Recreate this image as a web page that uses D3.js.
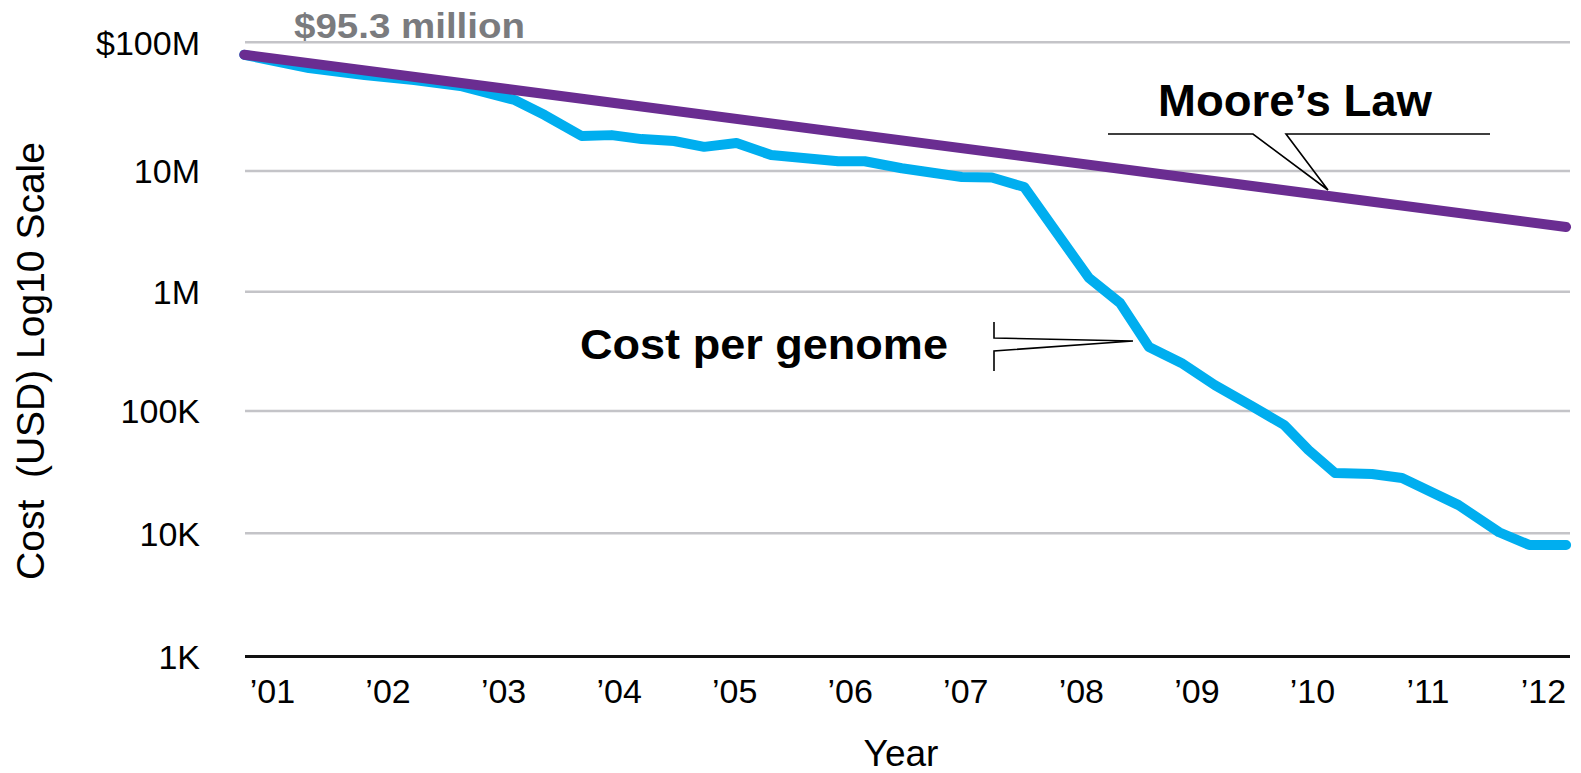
<!DOCTYPE html>
<html><head><meta charset="utf-8">
<script src="https://cdn.jsdelivr.net/npm/d3@7"></script>
<style>
body{margin:0;background:#fff}
svg{display:block}
text{font-family:"Liberation Sans",Arial,Helvetica,sans-serif}
</style>
</head><body>
<svg id="chart" width="1581" height="773"></svg>
<script>
// ---- data ----
const yearTicks = [2001,2002,2003,2004,2005,2006,2007,2008,2009,2010,2011,2012];
const yearLabels = ["’01","’02","’03","’04","’05","’06","’07","’08","’09","’10","’11","’12"];
const costTicks = [1e3,1e4,1e5,1e6,1e7,1e8];
const costTickLabels = ["1K","10K","100K","1M","10M","$100M"];

const costYears = [2000.76,2001.32,2001.80,2002.23,2002.63,2003.10,2003.36,2003.68,2003.94,2004.20,
  2004.48,2004.74,2005.02,2005.32,2005.90,2006.13,2006.45,2006.97,2007.23,2007.51,
  2008.07,2008.34,2008.59,2008.87,2009.16,2009.48,2009.76,2009.97,2010.20,2010.52,
  2010.78,2011.27,2011.62,2011.88,2012.20];
const costValues = [80.0e6,63.0e6,55.7e6,50.9e6,45.8e6,35.6e6,27.2e6,18.7e6,19.0e6,17.7e6,
  17.1e6,15.4e6,16.5e6,13.3e6,11.9e6,11.9e6,10.5e6,8.92e6,8.83e6,7.37e6,
  1.30e6,804e3,344e3,253e3,165e3,110e3,76.8e3,48.0e3,31.1e3,30.5e3,
  28.3e3,17.0e3,10.2e3,8.04e3,8.04e3];

const mooreYears = [2000.76, 2012.20];
const mooreValues = [80.0e6, 3.44e6];

// ---- layout ----
const svg = d3.select("#chart");
const plotLeft = 245, plotRight = 1570;

const x = d3.scaleLinear().domain([2001, 2012]).range([272, 1543]);
const y = d3.scaleLog()
  .domain([1e3,1e4,1e5,1e6,1e7,1e8])
  .range([656.5,533.3,411,291.7,171,42.3]);

// gridlines
svg.append("g").selectAll("line")
  .data(costTicks.slice(1))
  .join("line")
  .attr("x1", plotLeft).attr("x2", plotRight)
  .attr("y1", d => y(d)).attr("y2", d => y(d))
  .attr("stroke", "#c4c4c8").attr("stroke-width", 2.5);

// baseline (1K)
svg.append("line")
  .attr("x1", plotLeft).attr("x2", plotRight)
  .attr("y1", y(1e3)).attr("y2", y(1e3))
  .attr("stroke", "#111").attr("stroke-width", 3);

// y axis labels
const yAxis = d3.axisLeft(y).tickValues(costTicks)
  .tickFormat((d,i) => costTickLabels[i]).tickSize(0).tickPadding(0);
const gy = svg.append("g").attr("transform", "translate(200,0)").call(yAxis);
gy.select(".domain").remove();
gy.selectAll("text").attr("font-size", 34).attr("fill", "#000")
  .attr("font-family", '"Liberation Sans",Arial,sans-serif').attr("dy", "0.35em");

// x axis labels
const xAxis = d3.axisBottom(x).tickValues(yearTicks)
  .tickFormat((d,i) => yearLabels[i]).tickSize(0).tickPadding(0);
const gx = svg.append("g").attr("transform", "translate(0,703)").call(xAxis);
gx.select(".domain").remove();
gx.selectAll("text").attr("font-size", 34).attr("fill", "#000")
  .attr("font-family", '"Liberation Sans",Arial,sans-serif').attr("dy", 0);

// axis titles
svg.append("text").text("Year")
  .attr("x", 901).attr("y", 766).attr("text-anchor", "middle")
  .attr("font-size", 37).attr("fill", "#000");
svg.append("text").text("Cost  (USD) Log10 Scale")
  .attr("transform", "translate(44,361) rotate(-90)")
  .attr("text-anchor", "middle").attr("font-size", 39).attr("fill", "#000")
  .style("white-space", "pre");

// lines
const line = d3.line().x(d => x(d[0])).y(d => y(d[1]));
svg.append("path")
  .datum(costYears.map((d,i) => [d, costValues[i]]))
  .attr("d", line).attr("fill", "none")
  .attr("stroke", "#00aeef").attr("stroke-width", 10)
  .attr("stroke-linejoin", "round").attr("stroke-linecap", "round");
svg.append("path")
  .datum(mooreYears.map((d,i) => [d, mooreValues[i]]))
  .attr("d", line).attr("fill", "none")
  .attr("stroke", "#6a2d91").attr("stroke-width", 10)
  .attr("stroke-linecap", "round");

// annotations
svg.append("text").text("$95.3 million")
  .attr("x", 294).attr("y", 38).attr("font-size", 35).attr("font-weight", "bold")
  .attr("fill", "#7a7b7e").attr("textLength", 231).attr("lengthAdjust", "spacingAndGlyphs");

svg.append("text").text("Moore’s Law")
  .attr("x", 1158).attr("y", 116).attr("font-size", 44).attr("font-weight", "bold")
  .attr("fill", "#000").attr("textLength", 274).attr("lengthAdjust", "spacingAndGlyphs");

svg.append("text").text("Cost per genome")
  .attr("x", 580).attr("y", 359).attr("font-size", 43).attr("font-weight", "bold")
  .attr("fill", "#000").attr("textLength", 368).attr("lengthAdjust", "spacingAndGlyphs");

svg.append("path")
  .attr("d", "M1108,134 H1253 L1328,190 L1286,134 H1490")
  .attr("fill", "none").attr("stroke", "#000").attr("stroke-width", 1.6);

svg.append("path")
  .attr("d", "M994,322 V338 L1133,341 L994,351 V371")
  .attr("fill", "none").attr("stroke", "#000").attr("stroke-width", 1.6);
</script>
</body></html>
